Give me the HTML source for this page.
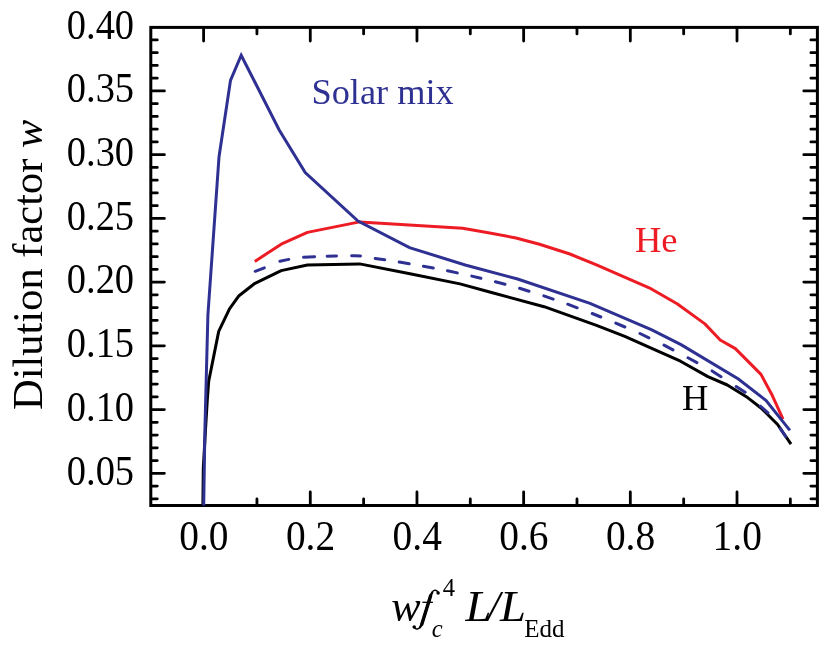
<!DOCTYPE html>
<html><head><meta charset="utf-8"><title>Dilution factor</title>
<style>html,body{margin:0;padding:0;background:#fff;}body{width:829px;height:651px;overflow:hidden;font-family:"Liberation Serif",serif;}</style></head>
<body>
<svg width="829" height="651" viewBox="0 0 829 651" style="display:block;will-change:transform">
<rect width="829" height="651" fill="#fff"/>
<path d="M151.1 498.80h6.2M817.1 498.80h-6.2M151.1 486.06h6.2M817.1 486.06h-6.2M151.1 473.31h13.3M817.1 473.31h-13.3M151.1 460.56h6.2M817.1 460.56h-6.2M151.1 447.82h6.2M817.1 447.82h-6.2M151.1 435.07h6.2M817.1 435.07h-6.2M151.1 422.33h6.2M817.1 422.33h-6.2M151.1 409.58h13.3M817.1 409.58h-13.3M151.1 396.83h6.2M817.1 396.83h-6.2M151.1 384.09h6.2M817.1 384.09h-6.2M151.1 371.34h6.2M817.1 371.34h-6.2M151.1 358.60h6.2M817.1 358.60h-6.2M151.1 345.85h13.3M817.1 345.85h-13.3M151.1 333.10h6.2M817.1 333.10h-6.2M151.1 320.36h6.2M817.1 320.36h-6.2M151.1 307.61h6.2M817.1 307.61h-6.2M151.1 294.87h6.2M817.1 294.87h-6.2M151.1 282.12h13.3M817.1 282.12h-13.3M151.1 269.37h6.2M817.1 269.37h-6.2M151.1 256.63h6.2M817.1 256.63h-6.2M151.1 243.88h6.2M817.1 243.88h-6.2M151.1 231.14h6.2M817.1 231.14h-6.2M151.1 218.39h13.3M817.1 218.39h-13.3M151.1 205.64h6.2M817.1 205.64h-6.2M151.1 192.90h6.2M817.1 192.90h-6.2M151.1 180.15h6.2M817.1 180.15h-6.2M151.1 167.41h6.2M817.1 167.41h-6.2M151.1 154.66h13.3M817.1 154.66h-13.3M151.1 141.91h6.2M817.1 141.91h-6.2M151.1 129.17h6.2M817.1 129.17h-6.2M151.1 116.42h6.2M817.1 116.42h-6.2M151.1 103.68h6.2M817.1 103.68h-6.2M151.1 90.93h13.3M817.1 90.93h-13.3M151.1 78.18h6.2M817.1 78.18h-6.2M151.1 65.44h6.2M817.1 65.44h-6.2M151.1 52.69h6.2M817.1 52.69h-6.2M151.1 39.95h6.2M817.1 39.95h-6.2M203.60 27.7v13.3M203.60 505.2v-13.3M256.94 27.7v6.2M256.94 505.2v-6.2M310.28 27.7v13.3M310.28 505.2v-13.3M363.62 27.7v6.2M363.62 505.2v-6.2M416.96 27.7v13.3M416.96 505.2v-13.3M470.30 27.7v6.2M470.30 505.2v-6.2M523.64 27.7v13.3M523.64 505.2v-13.3M576.98 27.7v6.2M576.98 505.2v-6.2M630.32 27.7v13.3M630.32 505.2v-13.3M683.66 27.7v6.2M683.66 505.2v-6.2M737.00 27.7v13.3M737.00 505.2v-13.3M790.34 27.7v6.2M790.34 505.2v-6.2" stroke="#000" stroke-width="2.8" stroke-linecap="round" fill="none"/>
<rect x="150.8" y="27.4" width="666.6" height="478.1" fill="none" stroke="#000" stroke-width="3.0"/>
<polyline points="202.9,505.0 203.3,468.0 205.6,428.0 207.3,400.0 208.7,381.2 218.7,331.4 229.5,308.9 239.0,295.7 255.0,283.3 281.2,270.6 307.4,265.0 359.7,263.9 411.2,274.0 460.0,283.9 489.7,292.0 544.1,306.7 596.5,325.4 624.8,336.3 656.8,350.6 680.5,361.2 707.9,376.6 727.3,385.0 747.6,397.6 761.0,408.0 777.6,424.5 791.0,444.2" fill="none" stroke="#000" stroke-width="3.0" stroke-linejoin="round"/>
<polyline points="254.8,261.4 281.2,244.2 307.4,232.4 359.7,221.9 462.7,228.2 489.7,232.9 516.0,238.0 539.5,244.2 569.9,254.0 596.5,264.8 649.2,287.8 677.1,303.8 704.9,323.9 720.2,340.0 735.4,348.6 761.0,374.4 772.2,395.3 783.0,419.1" fill="none" stroke="#ED1C24" stroke-width="3.0" stroke-linejoin="round"/>
<path d="M255.2 271.3 L264.3 267.9M279.9 261.3 L288.8 259.4M303.5 257.3 L314.6 256.8M327.1 256.3 L336.5 256.0M351.6 255.8 L355.0 255.7 L360.5 255.9M375.2 258.4 L384.7 259.8M399.2 262.1 L409.2 263.8M423.4 266.3 L433.3 268.1M447.5 270.8 L457.3 272.9M471.8 276.1 L480.9 278.3M495.4 281.8 L505.0 284.3M519.6 288.2 L529.0 291.2M543.8 295.9 L553.2 299.1M567.7 304.2 L577.2 307.8M592.2 313.5 L600.8 317.0M615.8 323.1 L624.9 327.0M640.0 333.5 L648.9 337.8M664.0 345.1 L673.0 349.9M688.0 357.8 L696.9 362.6M712.1 370.9 L721.0 376.7M736.2 386.6 L745.1 392.3M760.3 406.0 L768.0 412.8M780.3 428.6 L785.6 436.5" fill="none" stroke="#2E3192" stroke-width="3.0" stroke-linejoin="round" stroke-linecap="round"/>
<polyline points="203.7,505.5 204.9,430.0 207.9,315.0 219.0,157.0 230.5,80.3 241.2,55.2 279.2,130.0 305.2,172.6 358.0,221.0 409.5,247.6 465.2,265.0 517.6,279.0 590.0,303.4 651.8,329.8 681.0,344.6 738.4,379.0 766.1,400.5 789.9,430.4" fill="none" stroke="#2E3192" stroke-width="3.0" stroke-linejoin="miter"/>
<g font-family="Liberation Serif, serif" font-size="40" fill="#000">
<text transform="translate(134.1 38.5) scale(0.962 1.035)" text-anchor="end">0.40</text>
<text transform="translate(134.1 102.2) scale(0.962 1.035)" text-anchor="end">0.35</text>
<text transform="translate(134.1 166.0) scale(0.962 1.035)" text-anchor="end">0.30</text>
<text transform="translate(134.1 229.7) scale(0.962 1.035)" text-anchor="end">0.25</text>
<text transform="translate(134.1 293.4) scale(0.962 1.035)" text-anchor="end">0.20</text>
<text transform="translate(134.1 357.1) scale(0.962 1.035)" text-anchor="end">0.15</text>
<text transform="translate(134.1 420.9) scale(0.962 1.035)" text-anchor="end">0.10</text>
<text transform="translate(134.1 484.6) scale(0.962 1.035)" text-anchor="end">0.05</text>
<text transform="translate(203.8 550.4) scale(0.985 1.035)" text-anchor="middle">0.0</text>
<text transform="translate(310.5 550.4) scale(0.985 1.035)" text-anchor="middle">0.2</text>
<text transform="translate(417.2 550.4) scale(0.985 1.035)" text-anchor="middle">0.4</text>
<text transform="translate(523.8 550.4) scale(0.985 1.035)" text-anchor="middle">0.6</text>
<text transform="translate(630.5 550.4) scale(0.985 1.035)" text-anchor="middle">0.8</text>
<text transform="translate(737.2 550.4) scale(0.985 1.035)" text-anchor="middle">1.0</text>
</g>
<text font-family="Liberation Serif, serif" font-size="36.3" fill="#2E3192" x="311.5" y="104.1">Solar mix</text>
<text font-family="Liberation Serif, serif" font-size="36.5" fill="#ED1C24" x="635.0" y="251.8">He</text>
<text font-family="Liberation Serif, serif" font-size="36.5" fill="#000" x="681.9" y="410.2">H</text>
<text font-family="Liberation Serif, serif" font-size="42.5" fill="#000" transform="translate(41.8 410) rotate(-90)">Dilution factor <tspan font-style="italic">w</tspan></text>
<g font-family="Liberation Serif, serif" fill="#000">
<text font-size="44" font-style="italic" x="391.25" y="620.7">w</text>
<path d="M438.0 592.7C437.6 590.7 435.7 589.8 434.2 590.4C432.0 591.4 430.8 594.5 430.0 597.8L422.4 622.4C421.4 625.6 419.8 628.6 417.4 628.9C415.8 629.1 414.5 628.4 414.1 627.3" fill="none" stroke="#000" stroke-width="1.5" stroke-linecap="round"/>
<path d="M432.2 592.6C431.0 594.2 430.5 596.0 430.0 597.8L422.4 622.4C421.8 624.3 421.0 626.0 420.0 627.2" fill="none" stroke="#000" stroke-width="2.4" stroke-linecap="round"/>
<path d="M430.6 595.8L421.8 624.2" fill="none" stroke="#000" stroke-width="3.4" stroke-linecap="round"/>
<circle cx="438.1" cy="593.1" r="1.75"/><circle cx="414.2" cy="627.1" r="1.75"/>
<path d="M422.4 602.3H432.9" stroke="#000" stroke-width="1.3" fill="none"/>
<text font-size="24.6" font-style="italic" x="431.7" y="637">c</text>
<text font-size="24.6" x="442.7" y="596.2">4</text>
<text font-size="44" font-style="italic" transform="translate(465.6 620.7) scale(1.06 1)">L</text>
<text font-size="44" font-style="italic" x="487.8" y="620.7">/</text>
<text font-size="44" font-style="italic" transform="translate(500.0 620.7) scale(1.06 1)">L</text>
<text font-size="25" x="524.2" y="637">Edd</text>
</g>
</svg>
</body></html>
